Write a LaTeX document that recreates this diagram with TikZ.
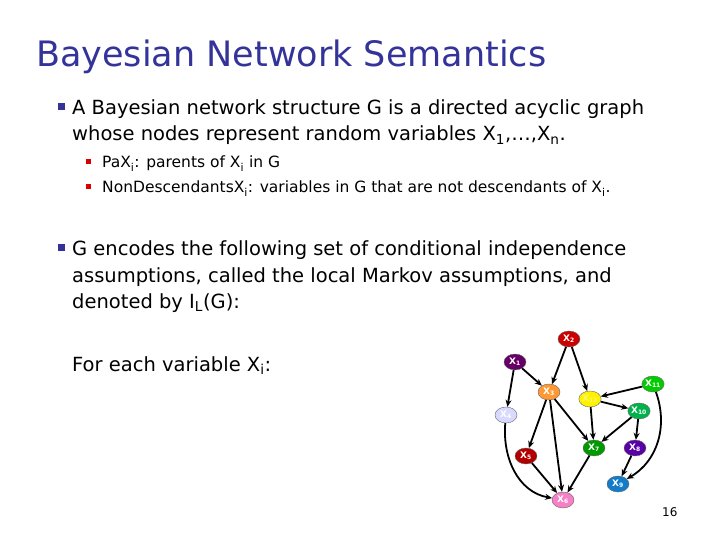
\documentclass[tikz,border=0pt]{standalone}
\usepackage{fontspec}
\setmainfont{DejaVu Sans}
\usetikzlibrary{arrows.meta,shapes.geometric}
\definecolor{ttl}{RGB}{51,51,153}
\newcommand{\sbs}[1]{\textsubscript{#1}}
\begin{document}
\begin{tikzpicture}[x=1pt,y=-1pt,
 txt/.style={anchor=base west,inner sep=0,font=\fontsize{19.5}{24}\selectfont},
 stxt/.style={anchor=base west,inner sep=0,font=\fontsize{15.5}{19}\selectfont},
 bb/.style={fill=ttl,minimum size=7pt,inner sep=0},
 sb/.style={fill=red!85!black,minimum size=5pt,inner sep=0},
 v/.style={ellipse,draw=black!60,thin,minimum width=22pt,minimum height=16pt,inner sep=0,font=\bfseries\fontsize{9}{9}\selectfont,text=white},
 e/.style={-{Stealth[length=7pt,width=6pt]},line width=1.8pt}]
\useasboundingbox (0,0) rectangle (720,540);
\node[anchor=base west,inner sep=0,text=ttl,font=\fontsize{35}{40}\selectfont] (title) at (36,67) {Bayesian Network Semantics};
\node[bb] (b1) at (61,107) {};
\node[txt] (l1) at (72,115) {A Bayesian network structure G is a directed acyclic graph};
\node[txt] (l2) at (72,141) {whose nodes represent random variables X\sbs{1},\ldots,X\sbs{n}.};
\node[sb] (s1) at (88,162) {};
\node[stxt] (l3) at (102,168) {PaX\sbs{i}: parents of X\sbs{i} in G};
\node[sb] (s2) at (88,187) {};
\node[stxt] (l4) at (102,193) {NonDescendantsX\sbs{i}: variables in G that are not descendants of X\sbs{i}.};
\node[bb] (b2) at (61,247) {};
\node[txt] (l5) at (72,255) {G encodes the following set of conditional independence};
\node[txt] (l6) at (72,282) {assumptions, called the local Markov assumptions, and};
\node[txt] (l7) at (72,308) {denoted by I\sbs{L}(G):};
\node[txt] (l8) at (72,371) {For each variable X\sbs{i}:};
\node[anchor=base west,inner sep=0,font=\fontsize{12}{12}\selectfont] (pg) at (662,516) {16};
\node[v,fill=red!80!black] (x2) at (569,339) {X\sbs{2}};
\node[v,fill=violet!80!black] (x1) at (515,362) {X\sbs{1}};
\node[v,fill=orange!80] (x3) at (549,392) {X\sbs{3}};
\node[v,fill=blue!15] (x4) at (506,415) {X\sbs{4}};
\node[v,fill=green!80!black] (x11) at (653,384) {X\sbs{11}};
\node[v,fill=yellow,text=yellow!60!white] (x12) at (590,399) {X\sbs{12}};
\node[v,fill=teal!60!green] (x10) at (639,411) {X\sbs{10}};
\node[v,fill=green!60!black] (x7) at (594,448) {X\sbs{7}};
\node[v,fill=violet!70!blue] (x8) at (635,448) {X\sbs{8}};
\node[v,fill=red!70!black] (x5) at (526,456) {X\sbs{5}};
\node[v,fill=cyan!60!blue] (x9) at (618,484) {X\sbs{9}};
\node[v,fill=magenta!50] (x6) at (563,500) {X\sbs{6}};
\draw[e] (x2) -- (x3);
\draw[e] (x2) -- (x12);
\draw[e] (x1) -- (x3);
\draw[e] (x1) -- (x4);
\draw[e] (x11) -- (x12);
\draw[e] (x11) to[out=-70,in=30] (x9);
\draw[e] (x12) -- (x10);
\draw[e] (x12) -- (x7);
\draw[e] (x10) -- (x7);
\draw[e] (x10) -- (x8);
\draw[e] (x8) -- (x9);
\draw[e] (x3) -- (x5);
\draw[e] (x3) -- (x6);
\draw[e] (x3) -- (x7);
\draw[e] (x4) to[out=-95,in=170] (x6);
\draw[e] (x5) -- (x6);
\draw[e] (x7) -- (x6);
\end{tikzpicture}
\end{document}
